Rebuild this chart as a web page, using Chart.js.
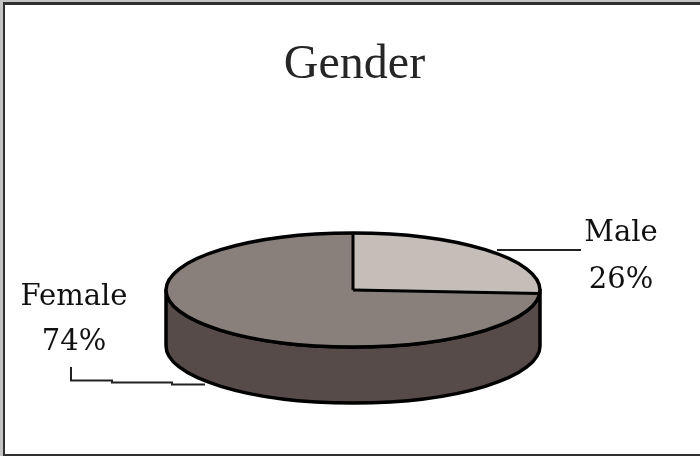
<!DOCTYPE html>
<html lang="en">
<head>
    <meta charset="UTF-8">
    <title>Gender</title>
    <style>
        html, body { margin: 0; padding: 0; background: #fff; overflow: hidden; }
        #box { position: relative; width: 700px; height: 456px; }
    </style>
    <script src="https://cdn.jsdelivr.net/npm/chart.js"></script>
</head>
<body>
<div id="box"><canvas id="pie" width="700" height="456"></canvas></div>
<script>
    const categories = ['Male', 'Female'];
    const values = [26, 74];
    const topColors = ['#c4bdb8', '#8a807b'];
    const wallColor = '#564b48';

    // flattened disc: where the ellipse sits on the page
    const disc = { x: 353, y: 290, rx: 187, ry: 57, depth: 56 };

    const labelSpots = [
        { x: 621, y1: 241, y2: 288, line: [[497, 250], [581, 250]] },
        { x: 74, y1: 305, y2: 350, line: [[71, 367], [71, 380.5], [112, 380.5], [112, 382.5], [172, 382.5], [172, 384.5], [205, 384.5]] }
    ];

    const pie3d = {
        id: 'pie3d',
        beforeDatasetsDraw(chart) {
            const ctx = chart.ctx;
            const arcs = chart.getDatasetMeta(0).data;
            const { x, y, rx, ry, depth } = disc;

            // wall under the front half
            ctx.save();
            ctx.beginPath();
            ctx.ellipse(x, y + depth, rx, ry, 0, 0, Math.PI);
            ctx.lineTo(x - rx, y);
            ctx.ellipse(x, y, rx, ry, 0, Math.PI, 0, true);
            ctx.closePath();
            ctx.fillStyle = wallColor;
            ctx.fill();
            ctx.strokeStyle = '#000';
            ctx.lineWidth = 3.5;
            ctx.lineJoin = 'round';
            ctx.stroke();
            ctx.restore();

            // top of the pie: the library's arcs squashed into the ellipse
            arcs.forEach(arc => {
                const r = arc.outerRadius;
                ctx.save();
                ctx.translate(x, y);
                ctx.scale(rx / r, ry / r);
                ctx.translate(-arc.x, -arc.y);
                arc.draw(ctx);
                ctx.restore();
            });

            // outlines stay even, so they are stroked outside the squash
            ctx.save();
            ctx.strokeStyle = '#000';
            ctx.lineWidth = 3.5;
            ctx.beginPath();
            ctx.ellipse(x, y, rx, ry, 0, 0, Math.PI * 2);
            ctx.stroke();
            ctx.lineWidth = 3;
            arcs.forEach(arc => {
                ctx.beginPath();
                ctx.moveTo(x, y);
                ctx.lineTo(x + rx * Math.cos(arc.startAngle), y + ry * Math.sin(arc.startAngle));
                ctx.stroke();
            });
            ctx.restore();
            return false;
        },
        afterDraw(chart) {
            const ctx = chart.ctx;
            ctx.save();

            // leader lines and labels
            ctx.textAlign = 'center';
            ctx.textBaseline = 'alphabetic';
            ctx.font = '29px "DejaVu Serif"';
            categories.forEach((name, i) => {
                const s = labelSpots[i];
                ctx.fillStyle = '#111';
                ctx.fillText(name, s.x, s.y1);
                ctx.fillText(values[i] + '%', s.x, s.y2);
                ctx.strokeStyle = '#222';
                ctx.lineWidth = 2;
                ctx.beginPath();
                s.line.forEach((p, k) => k ? ctx.lineTo(p[0], p[1]) : ctx.moveTo(p[0], p[1]));
                ctx.stroke();
            });

            // picture frame, open on the right
            ctx.fillStyle = '#c4c4c4';
            ctx.fillRect(0, 0, 700, 2);
            ctx.fillRect(0, 0, 3, 456);
            ctx.fillStyle = '#303030';
            ctx.fillRect(3, 2, 697, 3);
            ctx.fillRect(3, 2, 2, 454);
            ctx.fillRect(3, 454, 697, 2);
            ctx.restore();
        }
    };

    new Chart(document.getElementById('pie'), {
        type: 'pie',
        data: {
            labels: categories,
            datasets: [{
                data: values,
                backgroundColor: topColors,
                borderWidth: 0
            }]
        },
        options: {
            responsive: false,
            animation: false,
            layout: { padding: { left: 9 } },
            plugins: {
                legend: { display: false },
                tooltip: { enabled: false },
                title: {
                    display: true,
                    text: 'Gender',
                    color: '#262626',
                    font: { family: '"Liberation Serif"', size: 48, weight: 'normal' },
                    padding: { top: 37, bottom: 10 }
                }
            }
        },
        plugins: [pie3d]
    });
</script>
</body>
</html>
